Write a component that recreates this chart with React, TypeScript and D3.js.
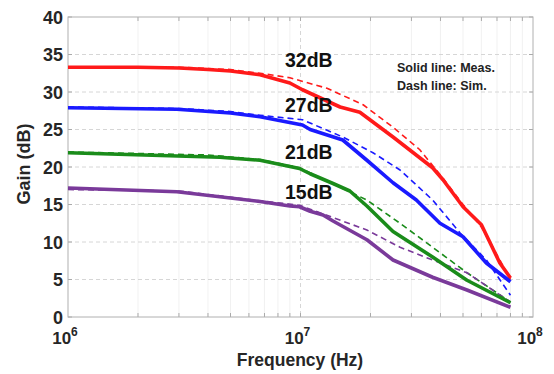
import React from "react";
import * as d3 from "d3";

const yTicks = [0, 5, 10, 15, 20, 25, 30, 35, 40];
const xDecades = [6, 7, 8];

// frequencies in MHz, gains in dB
const redMeasF = [1, 2, 3, 4, 5, 6.7, 9, 10.2, 14.8, 18, 25, 37, 41, 50, 60, 72, 80];
const redMeasG = [33.3, 33.3, 33.2, 33.0, 32.8, 32.3, 31.2, 30.3, 28, 27.3, 24, 19.9, 18.3, 14.7, 12.3, 7.2, 5.2];
const redSimF = [1, 3, 5, 6.7, 9, 13, 18.6, 25, 32.6, 41, 50, 60, 72, 80];
const redSimG = [33.3, 33.3, 33.0, 32.5, 31.9, 30.5, 28.3, 25.3, 22.3, 18.5, 15, 12, 7.6, 5];

const blueMeasF = [1, 2.94, 5, 6.7, 10.2, 11, 15.2, 19.3, 25, 31.5, 39.8, 50, 63, 80];
const blueMeasG = [27.9, 27.7, 27.2, 26.7, 25.6, 25, 23.6, 20.9, 17.9, 15.6, 12.5, 10.7, 7.2, 4.7];
const blueSimF = [1, 3, 5, 6.7, 10.2, 15.2, 20.5, 26.8, 37, 48.6, 63, 80];
const blueSimG = [28, 27.8, 27.4, 26.9, 26.3, 24, 21.9, 19.6, 15.6, 11.2, 7.6, 2.9];

const greenMeasF = [1, 4.5, 6.7, 9.9, 11, 13.8, 16.3, 19.3, 25, 37, 52, 80];
const greenMeasG = [21.9, 21.3, 20.9, 19.8, 19.1, 17.8, 16.8, 14.8, 11.4, 8, 4.9, 1.9];
const greenSimF = [1, 4, 6.7, 9.9, 19.3, 26.8, 37, 52, 80];
const greenSimG = [22, 21.6, 21, 19.9, 15.6, 12.5, 9.3, 5.9, 2];

const purpleMeasF = [1, 2.94, 6.7, 9, 9.9, 11, 12.5, 13.8, 19.3, 25, 37, 52, 80];
const purpleMeasG = [17.2, 16.7, 15.4, 14.8, 14.7, 14.1, 13.6, 12.8, 10.3, 7.6, 5.3, 3.6, 1.3];
const purpleSimF = [1, 3, 6.7, 9.9, 19.3, 26.8, 37, 52, 80];
const purpleSimG = [17, 16.8, 15.5, 14.9, 11.6, 9.3, 7.6, 5.9, 2];

const gainLabels = ["32dB", "27dB", "21dB", "15dB"];
const gainLabelBase = [33.35, 27.3, 21.1, 15.75];

const series = [
  { f: redSimF, g: redSimG, color: "#ff1a1a", dash: true },
  { f: blueSimF, g: blueSimG, color: "#1a1aff", dash: true },
  { f: greenSimF, g: greenSimG, color: "#1a8c1a", dash: true },
  { f: purpleSimF, g: purpleSimG, color: "#7a3a9a", dash: true },
  { f: redMeasF, g: redMeasG, color: "#ff1a1a", dash: false },
  { f: blueMeasF, g: blueMeasG, color: "#1a1aff", dash: false },
  { f: greenMeasF, g: greenMeasG, color: "#1a8c1a", dash: false },
  { f: purpleMeasF, g: purpleMeasG, color: "#7a3a9a", dash: false },
];

const W = 554, H = 374;
const L = 68, R = 533, T = 17, B = 317;
const FONT = "Liberation Sans, Arial, sans-serif";

export default function App() {
  const x = d3.scaleLog().domain([1e6, 1e8]).range([L, R]);
  const y = d3.scaleLinear().domain([0, 40]).range([B, T]);
  const line = d3.line<[number, number]>().x(d => x(d[0] * 1e6)).y(d => y(d[1]));
  const minor: number[] = [];
  for (const dec of [1e6, 1e7]) for (let k = 2; k <= 9; k++) minor.push(k * dec);

  return (
    <svg width={W} height={H} style={{ position: "absolute", left: 0, top: 0, background: "#fff" }}>
      {minor.map((m, i) => (
        <line key={"mg" + i} x1={x(m)} x2={x(m)} y1={T} y2={B} stroke="#ededed" strokeWidth={0.8} />
      ))}
      <line x1={x(1e7)} x2={x(1e7)} y1={T} y2={B} stroke="#d6d6d6" strokeWidth={1} strokeDasharray="4,3" />
      {yTicks.slice(1, -1).map(t => (
        <line key={"hg" + t} x1={L} x2={R} y1={y(t)} y2={y(t)} stroke="#d6d6d6" strokeWidth={1} strokeDasharray="4,3" />
      ))}
      {[...minor, 1e7].map((m, i) => (
        <g key={"tk" + i}>
          <line x1={x(m)} x2={x(m)} y1={B} y2={B - 4} stroke="#aaa" />
          <line x1={x(m)} x2={x(m)} y1={T} y2={T + 4} stroke="#aaa" />
        </g>
      ))}
      {yTicks.map(t => (
        <g key={"yt" + t}>
          <line x1={L} x2={L + 4} y1={y(t)} y2={y(t)} stroke="#aaa" />
          <line x1={R} x2={R - 4} y1={y(t)} y2={y(t)} stroke="#aaa" />
        </g>
      ))}
      <rect x={L} y={T} width={R - L} height={B - T} fill="none" stroke="#b0b0b0" strokeWidth={1} />
      {series.map((s, i) => (
        <path
          key={"s" + i}
          d={line(s.f.map((f, j) => [f, s.g[j]] as [number, number])) || ""}
          fill="none"
          stroke={s.color}
          strokeWidth={s.dash ? 1.6 : 3.6}
          strokeDasharray={s.dash ? "6,4" : undefined}
          strokeLinejoin="round"
        />
      ))}
      {yTicks.map(t => (
        <text key={"yl" + t} x={L - 5} y={y(t) + 6.5} textAnchor="end" fontFamily={FONT} fontWeight="bold" fontSize={18} fill="#262626">
          {t}
        </text>
      ))}
      {xDecades.map(d => (
        <text key={"xl" + d} x={x(Math.pow(10, d)) - 3} y={344} textAnchor="middle" fontFamily={FONT} fontWeight="bold" fontSize={17} fill="#262626">
          10<tspan dy={-8} fontSize={12}>{d}</tspan>
        </text>
      ))}
      <text x={300} y={366} textAnchor="middle" fontFamily={FONT} fontWeight="bold" fontSize={17.5} fill="#262626">
        Frequency (Hz)
      </text>
      <text transform={`translate(30,164) rotate(-90)`} textAnchor="middle" fontFamily={FONT} fontWeight="bold" fontSize={18} fill="#262626">
        Gain (dB)
      </text>
      {gainLabels.map((g, i) => (
        <text key={"gl" + i} x={285} y={y(gainLabelBase[i])} fontFamily={FONT} fontWeight="bold" fontSize={19.5} fill="#111">
          {g}
        </text>
      ))}
      <text x={397} y={72} fontFamily={FONT} fontWeight="bold" fontSize={12.5} fill="#222">Solid line: Meas.</text>
      <text x={397} y={90} fontFamily={FONT} fontWeight="bold" fontSize={12.5} fill="#222">Dash line: Sim.</text>
    </svg>
  );
}
